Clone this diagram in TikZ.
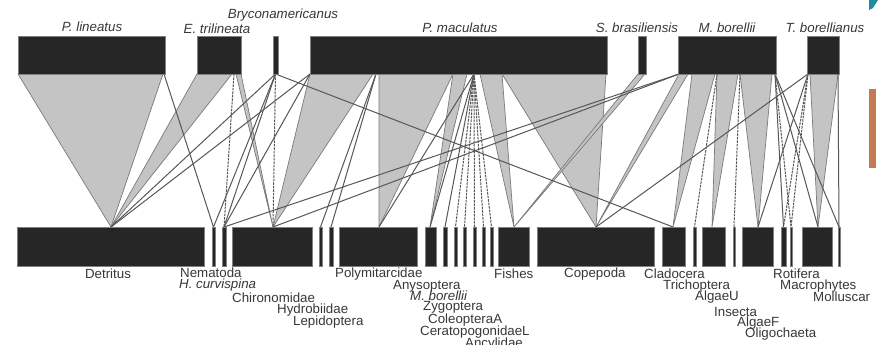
\documentclass[tikz,border=0pt]{standalone}
\usepackage{fontspec}
\setmainfont{Liberation Sans}
\begin{document}
\begin{tikzpicture}[x=1pt,y=-1pt,
  bar/.style={draw=black!50, line width=0.5pt, fill=black!85, inner sep=0pt, outer sep=0pt, anchor=north west},
  wedge/.style={draw=black!52, line width=0.7pt, fill=black!23, line join=round},
  link/.style={draw=black!66, line width=1pt},
  dlink/.style={draw=black!66, line width=1pt, dash pattern=on 2.5pt off 1pt},
  lab/.style={font=\fontsize{13.3}{14}\selectfont, text=black!78, inner sep=0pt},
  ilab/.style={font=\fontsize{13.3}{14}\selectfont\itshape, text=black!78, inner sep=0pt}
]
\useasboundingbox (0,0) rectangle (881,345);
\fill[white] (0,0) rectangle (881,345);

% ---------- top attachment points ----------
\coordinate (pla) at (18,74);   \coordinate (plb) at (163,74);  \coordinate (plc) at (164,74);
\coordinate (eta) at (197,74);  \coordinate (etb) at (232,74);  \coordinate (etc) at (234,74);
\coordinate (etd) at (236,74);  \coordinate (ete) at (241,74);
\coordinate (br)  at (275.5,74);
\coordinate (pma) at (310,74);  \coordinate (pmb) at (373,74);  \coordinate (pmc) at (379,74);
\coordinate (pmd) at (453,74);  \coordinate (pme) at (467,74);  \coordinate (pmf) at (474,74);
\coordinate (pmg) at (480,74);  \coordinate (pmh) at (502,74);  \coordinate (pmi) at (606,74);
\coordinate (pmj) at (376,74);
\coordinate (sba) at (638,74);  \coordinate (sbb) at (645,74);
\coordinate (mba) at (679,74);  \coordinate (mbb) at (688,74);  \coordinate (mbc) at (692,74);
\coordinate (mbd) at (715,74);  \coordinate (mbe) at (717,74);  \coordinate (mbf) at (738,74);
\coordinate (mbg) at (740,74);  \coordinate (mbh) at (772,74);  \coordinate (mbi) at (775,74);
\coordinate (tba) at (808,74);  \coordinate (tbb) at (810,74);  \coordinate (tbc) at (838,74);

% ---------- bottom apex points ----------
\coordinate (xDet) at (111,227);  \coordinate (xNem) at (213.5,227); \coordinate (xHcu) at (224,227);
\coordinate (xChi) at (273,227);  \coordinate (xHyd) at (320.5,227); \coordinate (xLep) at (331,227);
\coordinate (xPol) at (379,227);  \coordinate (xAny) at (430,227);   \coordinate (xMbo) at (445,227);
\coordinate (xZyg) at (455.5,227);\coordinate (xCol) at (464.5,227); \coordinate (xCer) at (474.5,227);
\coordinate (xAnc) at (483.5,227);\coordinate (xExt) at (491.5,227); \coordinate (xFis) at (514,227);
\coordinate (xCop) at (596,227);  \coordinate (xCla) at (673,227);   \coordinate (xTri) at (694.5,227);
\coordinate (xAlU) at (712,227);  \coordinate (xIns) at (734,227);   \coordinate (xAlF) at (758,227);
\coordinate (xOli) at (783.5,227);\coordinate (xRot) at (791,227);   \coordinate (xMac) at (818,227);
\coordinate (xMol) at (839,227);

% ---------- wedges ----------
\path[wedge] (pla) -- (plb) -- (xDet) -- cycle;
\path[wedge] (eta) -- (etb) -- (xDet) -- cycle;
\path[wedge] (etd) -- (ete) -- (xChi) -- cycle;
\path[wedge] (pma) -- (pmb) -- (xChi) -- cycle;
\path[wedge] (pmc) -- (pmd) -- (xPol) -- cycle;
\path[wedge] (pmd) -- (pme) -- (xAny) -- cycle;
\path[wedge] (pmg) -- (pmh) -- (xFis) -- cycle;
\path[wedge] (pmh) -- (pmi) -- (xCop) -- cycle;
\path[wedge] (sba) -- (sbb) -- (xFis) -- cycle;
\path[wedge] (mba) -- (mbb) -- (xCop) -- cycle;
\path[wedge] (mbc) -- (mbd) -- (xCla) -- cycle;
\path[wedge] (mbe) -- (mbf) -- (xAlU) -- cycle;
\path[wedge] (mbg) -- (mbh) -- (xAlF) -- cycle;
\path[wedge] (tbb) -- (tbc) -- (xMac) -- cycle;

% ---------- links ----------
\draw[link] (plc) -- (xNem);
\draw[dlink] (etc) -- (xHcu);
\draw[link] (br) -- (xDet);
\draw[dlink] (br) -- (xChi);
\draw[link] (br) -- (xNem);
\draw[link] (br) -- (xHcu);
\draw[link] (br) -- (xCla);
\draw[link] (pma) -- (xDet);
\draw[link] (pma) -- (xHcu);
\draw[link] (pmj) -- (xHyd);
\draw[link] (pmj) -- (xLep);
\draw[link] (pmf) -- (xPol);
\draw[link] (pmf) -- (xAny);
\draw[link] (pmf) -- (xMbo);
\draw[dlink] (pmf) -- (xZyg);
\draw[dlink] (pmf) -- (xCol);
\draw[dlink] (pmf) -- (xCer);
\draw[dlink] (pmf) -- (xAnc);
\draw[dlink] (pmf) -- (xExt);
\draw[link] (mba) -- (xHcu);
\draw[link] (mba) -- (xChi);
\draw[dlink] (mbe) -- (xTri);
\draw[dlink] (mbg) -- (xIns);
\draw[link] (mbi) -- (xOli);
\draw[dlink] (mbi) -- (xRot);
\draw[link] (mbi) -- (xMac);
\draw[link] (mbi) -- (xMol);
\draw[link] (tba) -- (xCop);
\draw[link] (tba) -- (xAlF);
\draw[dlink] (tba) -- (xOli);
\draw[dlink] (tba) -- (xRot);
\draw[link] (tbc) -- (xMol);

% ---------- top bars ----------
\node[bar, minimum width=147pt, minimum height=38pt] (plin) at (18,36) {};
\node[bar, minimum width=44pt,  minimum height=38pt] (etri) at (197,36) {};
\node[bar, minimum width=5pt,   minimum height=38pt] (bryc) at (273,36) {};
\node[bar, minimum width=297pt, minimum height=38pt] (pmac) at (310,36) {};
\node[bar, minimum width=8pt,   minimum height=38pt] (sbra) at (638,36) {};
\node[bar, minimum width=98pt,  minimum height=38pt] (mbor) at (678,36) {};
\node[bar, minimum width=32pt,  minimum height=38pt] (tbor) at (807,36) {};

% ---------- bottom bars ----------
\node[bar, minimum width=187pt, minimum height=39pt] (det)  at (17,227) {};
\node[bar, minimum width=3pt,   minimum height=39pt] (nem)  at (212,227) {};
\node[bar, minimum width=4pt,   minimum height=39pt] (hcur) at (222,227) {};
\node[bar, minimum width=80pt,  minimum height=39pt] (chir) at (232,227) {};
\node[bar, minimum width=3pt,   minimum height=39pt] (hydr) at (319,227) {};
\node[bar, minimum width=4pt,   minimum height=39pt] (lepi) at (329,227) {};
\node[bar, minimum width=78pt,  minimum height=39pt] (poly) at (339,227) {};
\node[bar, minimum width=11pt,  minimum height=39pt] (anys) at (425,227) {};
\node[bar, minimum width=4pt,   minimum height=39pt] (mbob) at (443,227) {};
\node[bar, minimum width=3pt,   minimum height=39pt] (zygo) at (454,227) {};
\node[bar, minimum width=3pt,   minimum height=39pt] (cole) at (463,227) {};
\node[bar, minimum width=3pt,   minimum height=39pt] (cera) at (473,227) {};
\node[bar, minimum width=3pt,   minimum height=39pt] (ancy) at (482,227) {};
\node[bar, minimum width=3pt,   minimum height=39pt] (extb) at (490,227) {};
\node[bar, minimum width=31pt,  minimum height=39pt] (fish) at (498,227) {};
\node[bar, minimum width=117pt, minimum height=39pt] (cope) at (537,227) {};
\node[bar, minimum width=23pt,  minimum height=39pt] (clad) at (662,227) {};
\node[bar, minimum width=3pt,   minimum height=39pt] (tric) at (693,227) {};
\node[bar, minimum width=23pt,  minimum height=39pt] (algu) at (702,227) {};
\node[bar, minimum width=2pt,   minimum height=39pt] (inse) at (733,227) {};
\node[bar, minimum width=31pt,  minimum height=39pt] (algf) at (742,227) {};
\node[bar, minimum width=5pt,   minimum height=39pt] (olig) at (781,227) {};
\node[bar, minimum width=2pt,   minimum height=39pt] (roti) at (790,227) {};
\node[bar, minimum width=30pt,  minimum height=39pt] (macr) at (802,227) {};
\node[bar, minimum width=2pt,   minimum height=39pt] (moll) at (838,227) {};

% ---------- top labels ----------
\node[ilab] (lplin) at (92,27)  {P. lineatus};
\node[ilab] (letri) at (217,29) {E. trilineata};
\node[ilab] (lbryc) at (283,15) {Bryconamericanus};
\node[ilab] (lpmac) at (460,28) {P. maculatus};
\node[ilab] (lsbra) at (637,28) {S. brasiliensis};
\node[ilab] (lmbor) at (727,28) {M. borellii};
\node[ilab] (ltbor) at (825,28) {T. borellianus};

% ---------- bottom labels ----------
\node[lab] (ldet) at (108,274) {Detritus};
\node[lab, anchor=west] (lnem) at (180,273) {Nematoda};
\node[ilab, anchor=west] (lhcu) at (179,285) {H. curvispina};
\node[lab, anchor=west] (lchi) at (232,298) {Chironomidae};
\node[lab, anchor=west] (lhyd) at (277,310) {Hydrobiidae};
\node[lab, anchor=west] (llep) at (293,322) {Lepidoptera};
\node[lab, anchor=west] (lpol) at (335,274) {Polymitarcidae};
\node[lab, anchor=west] (lany) at (393,286) {Anysoptera};
\node[ilab, anchor=west] (lmbo) at (410,296) {M. borellii};
\node[lab, anchor=west] (lzyg) at (423,307) {Zygoptera};
\node[lab, anchor=west] (lcol) at (428,320) {ColeopteraA};
\node[lab, anchor=west] (lcer) at (420,332) {CeratopogonidaeL};
\node[lab, anchor=west] (lanc) at (465,344) {Ancylidae};
\node[lab, anchor=west] (lfis) at (494,274) {Fishes};
\node[lab, anchor=west] (lcop) at (564,274) {Copepoda};
\node[lab, anchor=west] (lcla) at (644,274) {Cladocera};
\node[lab, anchor=west] (ltri) at (663,286) {Trichoptera};
\node[lab, anchor=west] (lalu) at (695,297) {AlgaeU};
\node[lab, anchor=west] (lins) at (714,312) {Insecta};
\node[lab, anchor=west] (lalf) at (737,323) {AlgaeF};
\node[lab, anchor=west] (loli) at (745,334) {Oligochaeta};
\node[lab, anchor=west] (lrot) at (773,274) {Rotifera};
\node[lab, anchor=west] (lmac) at (780,286) {Macrophytes};
\begin{scope}
\clip (0,0) rectangle (869,345);
\node[lab, anchor=west] (lmol) at (813,297) {Molluscan};
\end{scope}

% ---------- edge artefacts ----------
\fill[color={rgb,255:red,196;green,122;blue,84}] (869,89) rectangle (876,168);
\fill[color={rgb,255:red,32;green,140;blue,160}] (869,0) -- (878,0) -- (873,8) -- (869,10) -- cycle;
\end{tikzpicture}
\end{document}
